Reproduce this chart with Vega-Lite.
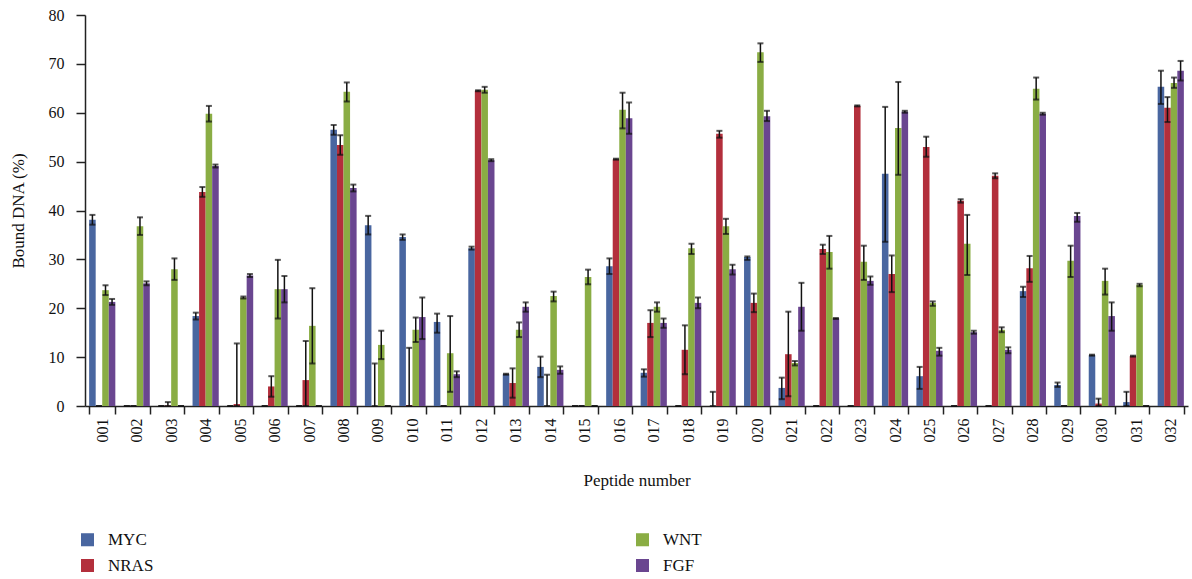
{
  "$schema": "https://vega.github.io/schema/vega-lite/v6.json",
  "autosize": "none",
  "padding": {"left": 85, "top": 15, "right": 4, "bottom": 173},
  "width": 1103,
  "height": 391,
  "background": "white",
  "config": {
    "view": {"stroke": null},
    "font": "Liberation Serif",
    "axis": {"labelFont": "Liberation Serif", "titleFont": "Liberation Serif", "titleFontWeight": "normal", "labelColor": "#111", "titleColor": "#111", "domainColor": "#222", "tickColor": "#222", "domainWidth": 1.5, "tickWidth": 1.5},
    "legend": {"labelFont": "Liberation Serif"}
  },
  "data": {"values": [
    {"p":"001","s":"MYC","v":38.1,"lo":37.1,"hi":39.1},{"p":"001","s":"NRAS","v":0,"lo":0,"hi":0},{"p":"001","s":"WNT","v":23.7,"lo":22.7,"hi":24.7},{"p":"001","s":"FGF","v":21.3,"lo":20.7,"hi":21.9},
    {"p":"002","s":"MYC","v":0,"lo":0,"hi":0},{"p":"002","s":"NRAS","v":0,"lo":0,"hi":0},{"p":"002","s":"WNT","v":36.8,"lo":35.0,"hi":38.6},{"p":"002","s":"FGF","v":25.1,"lo":24.7,"hi":25.5},
    {"p":"003","s":"MYC","v":0,"lo":0,"hi":0},{"p":"003","s":"NRAS","v":0.1,"lo":0,"hi":0.8},{"p":"003","s":"WNT","v":28.0,"lo":25.8,"hi":30.2},{"p":"003","s":"FGF","v":0,"lo":0,"hi":0},
    {"p":"004","s":"MYC","v":18.4,"lo":17.7,"hi":19.1},{"p":"004","s":"NRAS","v":43.8,"lo":42.8,"hi":44.8},{"p":"004","s":"WNT","v":59.8,"lo":58.2,"hi":61.4},{"p":"004","s":"FGF","v":49.1,"lo":48.8,"hi":49.4},
    {"p":"005","s":"MYC","v":0,"lo":0,"hi":0},{"p":"005","s":"NRAS","v":0.4,"lo":0,"hi":12.8},{"p":"005","s":"WNT","v":22.2,"lo":22.0,"hi":22.4},{"p":"005","s":"FGF","v":26.7,"lo":26.4,"hi":27.0},
    {"p":"006","s":"MYC","v":0,"lo":0,"hi":0},{"p":"006","s":"NRAS","v":4.0,"lo":1.9,"hi":6.1},{"p":"006","s":"WNT","v":23.9,"lo":17.9,"hi":29.9},{"p":"006","s":"FGF","v":23.9,"lo":21.2,"hi":26.6},
    {"p":"007","s":"MYC","v":0,"lo":0,"hi":0},{"p":"007","s":"NRAS","v":5.3,"lo":0,"hi":13.3},{"p":"007","s":"WNT","v":16.4,"lo":8.7,"hi":24.1},{"p":"007","s":"FGF","v":0,"lo":0,"hi":0},
    {"p":"008","s":"MYC","v":56.5,"lo":55.5,"hi":57.5},{"p":"008","s":"NRAS","v":53.4,"lo":51.4,"hi":55.4},{"p":"008","s":"WNT","v":64.3,"lo":62.3,"hi":66.2},{"p":"008","s":"FGF","v":44.6,"lo":43.9,"hi":45.3},
    {"p":"009","s":"MYC","v":37.0,"lo":35.1,"hi":38.9},{"p":"009","s":"NRAS","v":0,"lo":0,"hi":8.7},{"p":"009","s":"WNT","v":12.5,"lo":9.6,"hi":15.4},{"p":"009","s":"FGF","v":0,"lo":0,"hi":0},
    {"p":"010","s":"MYC","v":34.6,"lo":34.0,"hi":35.1},{"p":"010","s":"NRAS","v":0.2,"lo":0,"hi":11.9},{"p":"010","s":"WNT","v":15.6,"lo":13.1,"hi":18.1},{"p":"010","s":"FGF","v":18.2,"lo":13.7,"hi":22.2},
    {"p":"011","s":"MYC","v":17.2,"lo":15.0,"hi":18.9},{"p":"011","s":"NRAS","v":0,"lo":0,"hi":0},{"p":"011","s":"WNT","v":10.8,"lo":2.9,"hi":18.4},{"p":"011","s":"FGF","v":6.5,"lo":5.9,"hi":7.1},
    {"p":"012","s":"MYC","v":32.3,"lo":32.0,"hi":32.6},{"p":"012","s":"NRAS","v":64.5,"lo":64.4,"hi":64.6},{"p":"012","s":"WNT","v":64.7,"lo":64.1,"hi":65.3},{"p":"012","s":"FGF","v":50.3,"lo":50.1,"hi":50.5},
    {"p":"013","s":"MYC","v":6.5,"lo":6.4,"hi":6.6},{"p":"013","s":"NRAS","v":4.7,"lo":1.7,"hi":7.7},{"p":"013","s":"WNT","v":15.6,"lo":14.1,"hi":17.1},{"p":"013","s":"FGF","v":20.3,"lo":19.3,"hi":21.2},
    {"p":"014","s":"MYC","v":8.0,"lo":5.9,"hi":10.1},{"p":"014","s":"NRAS","v":0,"lo":0,"hi":6.4},{"p":"014","s":"WNT","v":22.5,"lo":21.4,"hi":23.4},{"p":"014","s":"FGF","v":7.4,"lo":6.6,"hi":8.1},
    {"p":"015","s":"MYC","v":0,"lo":0,"hi":0},{"p":"015","s":"NRAS","v":0,"lo":0,"hi":0},{"p":"015","s":"WNT","v":26.4,"lo":24.9,"hi":27.9},{"p":"015","s":"FGF","v":0,"lo":0,"hi":0},
    {"p":"016","s":"MYC","v":28.6,"lo":27.0,"hi":30.2},{"p":"016","s":"NRAS","v":50.5,"lo":50.4,"hi":50.6},{"p":"016","s":"WNT","v":60.6,"lo":56.8,"hi":64.1},{"p":"016","s":"FGF","v":58.9,"lo":55.7,"hi":62.1},
    {"p":"017","s":"MYC","v":6.8,"lo":6.0,"hi":7.5},{"p":"017","s":"NRAS","v":17.0,"lo":14.1,"hi":19.6},{"p":"017","s":"WNT","v":20.3,"lo":19.3,"hi":21.2},{"p":"017","s":"FGF","v":17.0,"lo":16.0,"hi":17.9},
    {"p":"018","s":"MYC","v":0,"lo":0,"hi":0},{"p":"018","s":"NRAS","v":11.5,"lo":6.5,"hi":16.5},{"p":"018","s":"WNT","v":32.3,"lo":31.1,"hi":33.2},{"p":"018","s":"FGF","v":21.1,"lo":20.0,"hi":22.2},
    {"p":"019","s":"MYC","v":0,"lo":0,"hi":2.9},{"p":"019","s":"NRAS","v":55.7,"lo":54.9,"hi":56.3},{"p":"019","s":"WNT","v":36.8,"lo":35.2,"hi":38.3},{"p":"019","s":"FGF","v":28.0,"lo":26.9,"hi":28.9},
    {"p":"020","s":"MYC","v":30.5,"lo":29.9,"hi":30.6},{"p":"020","s":"NRAS","v":21.1,"lo":19.2,"hi":23.0},{"p":"020","s":"WNT","v":72.4,"lo":70.4,"hi":74.2},{"p":"020","s":"FGF","v":59.3,"lo":58.3,"hi":60.4},
    {"p":"021","s":"MYC","v":3.7,"lo":1.4,"hi":5.8},{"p":"021","s":"NRAS","v":10.6,"lo":2.0,"hi":19.3},{"p":"021","s":"WNT","v":8.8,"lo":8.3,"hi":9.2},{"p":"021","s":"FGF","v":20.3,"lo":15.4,"hi":25.2},
    {"p":"022","s":"MYC","v":0,"lo":0,"hi":0},{"p":"022","s":"NRAS","v":32.1,"lo":31.1,"hi":33.0},{"p":"022","s":"WNT","v":31.5,"lo":28.1,"hi":34.8},{"p":"022","s":"FGF","v":17.9,"lo":17.8,"hi":18.0},
    {"p":"023","s":"MYC","v":0,"lo":0,"hi":0},{"p":"023","s":"NRAS","v":61.4,"lo":61.3,"hi":61.5},{"p":"023","s":"WNT","v":29.5,"lo":25.8,"hi":32.8},{"p":"023","s":"FGF","v":25.6,"lo":24.8,"hi":26.5},
    {"p":"024","s":"MYC","v":47.5,"lo":33.6,"hi":61.2},{"p":"024","s":"NRAS","v":27.0,"lo":23.3,"hi":30.8},{"p":"024","s":"WNT","v":56.9,"lo":47.3,"hi":66.3},{"p":"024","s":"FGF","v":60.2,"lo":60.0,"hi":60.4},
    {"p":"025","s":"MYC","v":6.1,"lo":3.5,"hi":8.0},{"p":"025","s":"NRAS","v":53.0,"lo":51.0,"hi":55.1},{"p":"025","s":"WNT","v":21.1,"lo":20.5,"hi":21.4},{"p":"025","s":"FGF","v":11.3,"lo":10.3,"hi":11.9},
    {"p":"026","s":"MYC","v":0,"lo":0,"hi":0},{"p":"026","s":"NRAS","v":42.0,"lo":41.6,"hi":42.3},{"p":"026","s":"WNT","v":33.2,"lo":26.8,"hi":39.1},{"p":"026","s":"FGF","v":15.1,"lo":14.8,"hi":15.4},
    {"p":"027","s":"MYC","v":0,"lo":0,"hi":0},{"p":"027","s":"NRAS","v":47.1,"lo":46.6,"hi":47.6},{"p":"027","s":"WNT","v":15.6,"lo":15.1,"hi":16.1},{"p":"027","s":"FGF","v":11.5,"lo":10.8,"hi":12.0},
    {"p":"028","s":"MYC","v":23.5,"lo":22.3,"hi":24.4},{"p":"028","s":"NRAS","v":28.2,"lo":25.4,"hi":30.7},{"p":"028","s":"WNT","v":64.9,"lo":62.7,"hi":67.2},{"p":"028","s":"FGF","v":59.8,"lo":59.6,"hi":60.0},
    {"p":"029","s":"MYC","v":4.3,"lo":3.9,"hi":4.8},{"p":"029","s":"NRAS","v":0,"lo":0,"hi":0},{"p":"029","s":"WNT","v":29.7,"lo":26.4,"hi":32.8},{"p":"029","s":"FGF","v":38.9,"lo":37.7,"hi":39.5},
    {"p":"030","s":"MYC","v":10.4,"lo":10.3,"hi":10.5},{"p":"030","s":"NRAS","v":0.5,"lo":0,"hi":1.5},{"p":"030","s":"WNT","v":25.6,"lo":22.8,"hi":28.1},{"p":"030","s":"FGF","v":18.4,"lo":15.4,"hi":21.2},
    {"p":"031","s":"MYC","v":0.8,"lo":0,"hi":2.9},{"p":"031","s":"NRAS","v":10.2,"lo":10.1,"hi":10.3},{"p":"031","s":"WNT","v":24.8,"lo":24.5,"hi":25.0},{"p":"031","s":"FGF","v":0,"lo":0,"hi":0},
    {"p":"032","s":"MYC","v":65.3,"lo":61.8,"hi":68.6},{"p":"032","s":"NRAS","v":61.0,"lo":58.1,"hi":63.2},{"p":"032","s":"WNT","v":66.1,"lo":65.1,"hi":67.2},{"p":"032","s":"FGF","v":68.6,"lo":66.6,"hi":70.6}
  ]},
  "encoding": {
    "x": {"field": "p", "type": "nominal", "sort": null,
      "scale": {"paddingInner": 0.24, "paddingOuter": 0.12},
      "axis": {"title": "Peptide number", "titleFontSize": 17, "titlePadding": 30, "labelAngle": -90, "labelFontSize": 16, "labelPadding": 4, "tickBand": "extent", "tickSize": 8, "labelBaseline": "middle", "labelAlign": "right"}},
    "xOffset": {"field": "s", "type": "nominal", "sort": ["MYC", "NRAS", "WNT", "FGF"], "scale": {"paddingInner": 0, "paddingOuter": 0}}
  },
  "layer": [
    {
      "mark": {"type": "bar"},
      "encoding": {
        "y": {"field": "v", "type": "quantitative",
          "scale": {"domain": [0, 80], "nice": false},
          "axis": {"title": "Bound DNA (%)", "titleFontSize": 17, "titlePadding": 21, "values": [0,10,20,30,40,50,60,70,80], "labelFontSize": 16, "labelPadding": 12, "tickSize": 9, "grid": false}},
        "color": {"field": "s", "type": "nominal",
          "scale": {"domain": ["MYC", "NRAS", "WNT", "FGF"], "range": ["#4966a0", "#b32f3c", "#8aad44", "#6a4690"]},
          "legend": {"title": null, "orient": "none", "legendX": -6, "legendY": 516, "columns": 2, "columnPadding": 480, "rowPadding": 8, "labelFont": "Liberation Serif", "labelFontSize": 17, "labelColor": "#111", "symbolType": "square", "symbolSize": 170, "symbolStrokeWidth": 0, "symbolOpacity": 1, "labelOffset": 12}}
      }
    },
    {
      "mark": {"type": "rule", "color": "#111", "strokeWidth": 1.5},
      "encoding": {"y": {"field": "lo", "type": "quantitative"}, "y2": {"field": "hi"}}
    },
    {
      "mark": {"type": "tick", "color": "#111", "size": 6, "thickness": 2},
      "encoding": {"y": {"field": "lo", "type": "quantitative"}}
    },
    {
      "mark": {"type": "tick", "color": "#111", "size": 6, "thickness": 2},
      "encoding": {"y": {"field": "hi", "type": "quantitative"}}
    }
  ]
}
